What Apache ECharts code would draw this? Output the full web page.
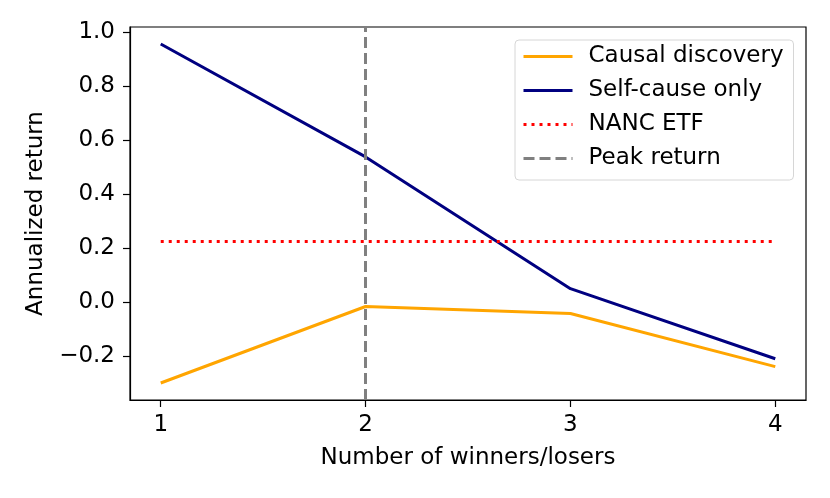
<!DOCTYPE html>
<html>
<head>
    <meta charset="UTF-8">
    <title>Annualized return vs number of winners/losers</title>
    <script src="https://cdn.jsdelivr.net/npm/echarts@6/dist/echarts.min.js"></script>
    <style>
        html, body {margin: 0; padding: 0; background: #fff;}
        #chart {width: 830px; height: 498px;}
    </style>
</head>
<body>
    <div id="chart"></div>

    <script>
        // values
        const winners = [1, 2, 3, 4];
        const causalDiscovery = [-0.301, -0.017, -0.043, -0.240];
        const selfCauseOnly = [0.957, 0.538, 0.049, -0.211];
        const nancEtf = 0.224;
        const peakX = 2;
        const yTicks = [-0.2, 0.0, 0.2, 0.4, 0.6, 0.8, 1.0];

        const font = 'DejaVu Sans';
        const fs = 23;
        const pairs = (xs, ys) => xs.map((x, i) => [x, ys[i]]);

        const chart = echarts.init(document.getElementById('chart'));
        chart.setOption({
            animation: false,
            textStyle: { fontFamily: font },
            grid: { left: 130, right: 24, top: 27, bottom: 98, show: true, borderColor: '#000', borderWidth: 1.2 },
            legend: {
                orient: 'vertical',
                left: 515, top: 40,
                padding: [5, 10, 10, 7],
                itemWidth: 49, itemHeight: 14, itemGap: 11,
                itemStyle: { opacity: 0 },
                lineStyle: { width: 3 },
                backgroundColor: 'rgba(255,255,255,0.8)',
                borderColor: '#d6d6d6', borderWidth: 1, borderRadius: 4,
                textStyle: { fontSize: fs, color: '#000', padding: [0, 0, 0, 11] },
                data: ['Causal discovery', 'Self-cause only', 'NANC ETF', 'Peak return']
            },
            xAxis: {
                type: 'value', min: 0.85, max: 4.15,
                name: 'Number of winners/losers', nameLocation: 'middle', nameGap: 47,
                nameTextStyle: { fontSize: fs, color: '#000' },
                axisLine: { show: true, onZero: false, lineStyle: { color: '#000', width: 1.2 } },
                axisTick: { show: true, length: 7, customValues: winners, lineStyle: { color: '#000', width: 1.2 } },
                axisLabel: { customValues: winners, margin: 14, fontSize: fs, color: '#000' },
                splitLine: { show: false }
            },
            yAxis: {
                type: 'value', min: -0.364, max: 1.02,
                name: 'Annualized return', nameLocation: 'middle', nameGap: 82,
                nameTextStyle: { fontSize: fs, color: '#000' },
                axisLine: { show: true, onZero: false, lineStyle: { color: '#000', width: 1.2 } },
                axisTick: { show: true, length: 7, customValues: yTicks, lineStyle: { color: '#000', width: 1.2 } },
                axisLabel: {
                    customValues: yTicks, margin: 15, fontSize: fs, color: '#000',
                    formatter: v => (v < 0 ? '\u2212' : '') + Math.abs(v).toFixed(1)
                },
                splitLine: { show: false }
            },
            series: [
                {
                    name: 'Causal discovery', type: 'line', symbol: 'none',
                    data: pairs(winners, causalDiscovery),
                    itemStyle: { color: '#FFA500' },
                    lineStyle: { color: '#FFA500', width: 3 }
                },
                {
                    name: 'Self-cause only', type: 'line', symbol: 'none',
                    data: pairs(winners, selfCauseOnly),
                    itemStyle: { color: '#000080' },
                    lineStyle: { color: '#000080', width: 3 }
                },
                {
                    name: 'NANC ETF', type: 'line', symbol: 'none',
                    data: [[winners[0], nancEtf], [winners[winners.length - 1], nancEtf]],
                    itemStyle: { color: '#ff0000' },
                    lineStyle: { color: '#ff0000', width: 3, type: [3, 5] }
                },
                {
                    name: 'Peak return', type: 'line', symbol: 'none',
                    data: [],
                    itemStyle: { color: '#808080' },
                    lineStyle: { color: '#808080', width: 3, type: [11, 5] },
                    markLine: {
                        silent: true, symbol: 'none', label: { show: false },
                        lineStyle: { color: '#808080', width: 3, type: [11, 5] },
                        data: [{ xAxis: peakX }]
                    }
                }
            ]
        });
    </script>
</body>
</html>
